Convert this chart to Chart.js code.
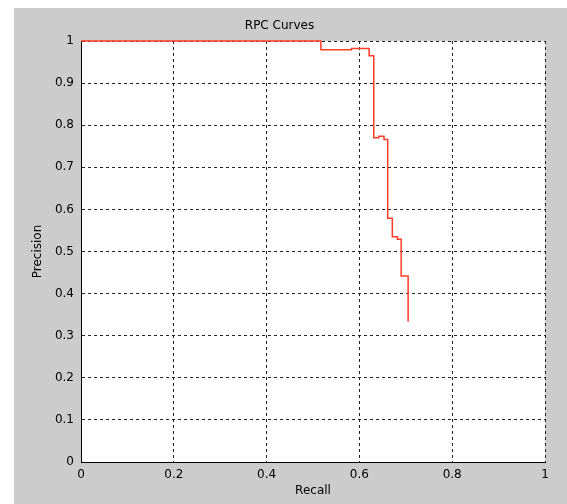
<!DOCTYPE html>
<html>
<head>
<meta charset="utf-8">
<script src="https://cdn.jsdelivr.net/npm/chart.js@4"></script>
<style>
  html, body { margin: 0; padding: 0; background: #fff; }
  #wrap { position: absolute; left: 14px; top: 8px; width: 553px; height: 496px; background: #cccccc; }
</style>
</head>
<body>
<div id="wrap"><canvas id="rpcChart"></canvas></div>
<script>
// points of the RPC curve, joined with step interpolation
var recall = [0, 0.517, 0.583, 0.621, 0.631, 0.642, 0.653, 0.661, 0.671, 0.682, 0.690, 0.705];
var precision = [1, 0.979, 0.982, 0.965, 0.770, 0.774, 0.766, 0.579, 0.535, 0.529, 0.442, 0.333];

var xTicks = [0, 0.2, 0.4, 0.6, 0.8, 1];
var yTicks = [0, 0.1, 0.2, 0.3, 0.4, 0.5, 0.6, 0.7, 0.8, 0.9, 1];

Chart.defaults.font.family = 'DejaVu Sans';
Chart.defaults.font.size = 12;
Chart.defaults.color = '#000';

// white plot area on the grey figure
var plotBackground = {
    id: 'plotBackground',
    beforeDraw: function(chart) {
        var a = chart.chartArea;
        var ctx = chart.ctx;
        ctx.save();
        ctx.fillStyle = '#fff';
        ctx.fillRect(a.left, a.top, a.right - a.left, a.bottom - a.top);
        ctx.restore();
    }
};

var points = recall.map(function(r, i) { return {x: r, y: precision[i]}; });

var ctx = document.getElementById('rpcChart').getContext('2d');
var chart = new Chart(ctx, {
    type: 'scatter',
    data: {
        datasets: [{
            data: points,
            showLine: true,
            stepped: true,
            borderColor: 'rgb(255, 60, 40)',
            borderWidth: 1.5,
            pointRadius: 0,
            fill: false,
            clip: false
        }]
    },
    options: {
        responsive: true,
        maintainAspectRatio: false,
        animation: false,
        layout: { padding: { left: 0, top: 0, right: 22, bottom: 0 } },
        plugins: {
            legend: { display: false },
            tooltip: { enabled: false },
            title: {
                display: true,
                text: 'RPC Curves',
                font: { size: 12, weight: 'normal' },
                padding: { top: 11, bottom: 7.6 }
            }
        },
        scales: {
            x: {
                type: 'linear',
                min: 0,
                max: 1,
                afterBuildTicks: function(scale) {
                    scale.ticks = xTicks.map(function(v) { return {value: v}; });
                },
                afterFit: function(scale) { scale.height = 42; },
                ticks: { padding: 6, maxRotation: 0, callback: function(v) { return String(v); } },
                grid: { color: '#222', lineWidth: 1, drawTicks: false },
                border: { display: true, color: '#000', width: 1, dash: [3, 3] },
                title: { display: true, text: 'Recall', padding: { top: 0, bottom: 6 } }
            },
            y: {
                type: 'linear',
                min: 0,
                max: 1,
                afterBuildTicks: function(scale) {
                    scale.ticks = yTicks.map(function(v) { return {value: v}; });
                },
                afterFit: function(scale) { scale.width = 67; },
                ticks: { padding: 7, callback: function(v) { return String(v); } },
                grid: { color: '#222', lineWidth: 1, drawTicks: false },
                border: { display: true, color: '#000', width: 1, dash: [3, 3] },
                title: { display: true, text: 'Precision', padding: { top: 17, bottom: 0 } }
            }
        }
    },
    plugins: [plotBackground]
});
</script>
</body>
</html>
